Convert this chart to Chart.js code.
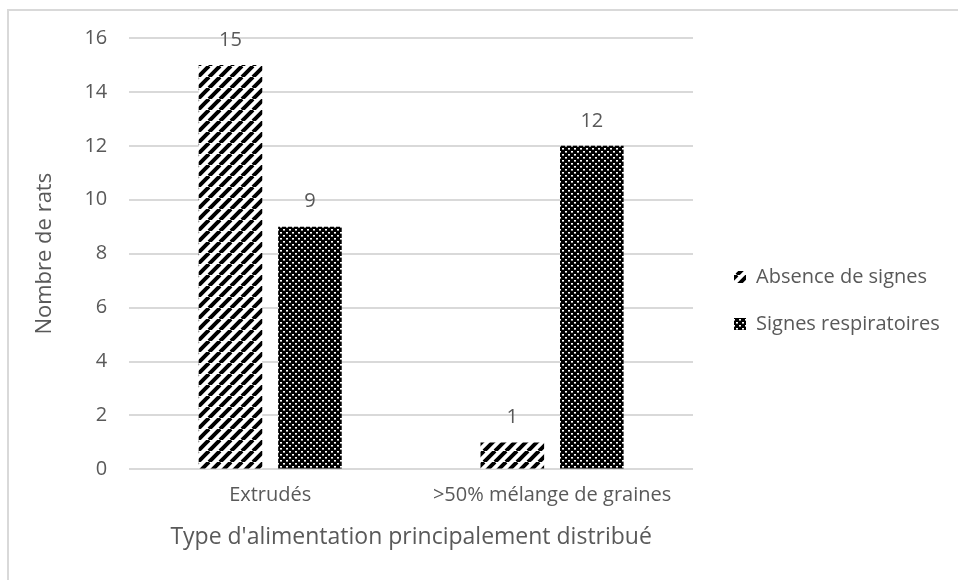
<!DOCTYPE html>
<html>
<head>
<meta charset="utf-8">
<script src="https://cdn.jsdelivr.net/npm/chart.js@4.4.0/dist/chart.umd.min.js"></script>
<style>
  html, body { margin: 0; padding: 0; background: #fff; }
  #wrap { width: 958px; height: 580px; }
</style>
</head>
<body>
<div id="wrap"><canvas id="chart" width="958" height="580"></canvas></div>
<script>
// data
const categories = ["Extrudés", ">50% mélange de graines"];
const absenceSignes = [15, 1];
const signesRespiratoires = [9, 12];
const seriesNames = ["Absence de signes", "Signes respiratoires"];
const yTicks = [0, 2, 4, 6, 8, 10, 12, 14, 16];

const textColor = "#595959";
const gridColor = "#d9d9d9";
const fontFamily = "'Open Sans', Lato, sans-serif";

// black diagonal stripes on white
function stripePattern() {
  const p = 11;
  const c = document.createElement("canvas");
  c.width = p; c.height = p;
  const g = c.getContext("2d");
  g.fillStyle = "#fff";
  g.fillRect(0, 0, p, p);
  g.strokeStyle = "#000";
  g.lineWidth = 4;
  g.beginPath();
  for (let k = -p; k <= p; k += p) {
    g.moveTo(k, p);
    g.lineTo(k + p, 0);
  }
  g.stroke();
  return g.createPattern(c, "repeat");
}

// black with small white dots
function dotPattern() {
  const c = document.createElement("canvas");
  c.width = 6; c.height = 6;
  const g = c.getContext("2d");
  g.fillStyle = "#000";
  g.fillRect(0, 0, 6, 6);
  g.fillStyle = "#fff";
  g.fillRect(1, 1, 2, 1.6);
  g.fillRect(4, 4, 2, 1.6);
  return g.createPattern(c, "repeat");
}

const frame = {
  id: "frame",
  beforeDraw(chart) {
    const ctx = chart.ctx;
    ctx.save();
    ctx.fillStyle = "#fff";
    ctx.fillRect(0, 0, chart.width, chart.height);
    ctx.strokeStyle = gridColor;
    ctx.lineWidth = 2;
    ctx.beginPath();
    ctx.moveTo(8, chart.height);
    ctx.lineTo(8, 10);
    ctx.lineTo(chart.width, 10);
    ctx.stroke();
    ctx.restore();
  }
};

// legend sits a bit away from the plot, like in the excel chart
const legendGap = {
  id: "legendGap",
  afterInit(chart) {
    const legend = chart.legend;
    const fit = legend.fit;
    legend.fit = function () {
      fit.call(this);
      this.width += 28;
    };
  },
  afterLayout(chart) {
    chart.legend.left += 14;
  }
};

const valueLabels = {
  id: "valueLabels",
  afterDatasetsDraw(chart) {
    const ctx = chart.ctx;
    ctx.save();
    ctx.fillStyle = textColor;
    ctx.font = "20px " + fontFamily;
    ctx.textAlign = "center";
    ctx.textBaseline = "middle";
    chart.data.datasets.forEach((ds, i) => {
      chart.getDatasetMeta(i).data.forEach((bar, j) => {
        ctx.fillText(String(ds.data[j]), bar.x, bar.y - 25);
      });
    });
    ctx.restore();
  }
};

new Chart(document.getElementById("chart"), {
  type: "bar",
  data: {
    labels: categories,
    datasets: [
      { label: seriesNames[0], data: absenceSignes, backgroundColor: stripePattern(), borderWidth: 0 },
      { label: seriesNames[1], data: signesRespiratoires, backgroundColor: dotPattern(), borderWidth: 0 }
    ]
  },
  options: {
    responsive: false,
    animation: false,
    layout: { padding: { left: 10, top: 38, right: 0, bottom: 17 } },
    datasets: { bar: { categoryPercentage: 0.564, barPercentage: 0.8 } },
    scales: {
      x: {
        grid: { display: false },
        border: { display: false },
        ticks: { color: textColor, font: { family: fontFamily, size: 20 }, padding: 6 },
        title: {
          display: true,
          text: "Type d'alimentation principalement distribué",
          color: textColor,
          font: { family: fontFamily, size: 23 },
          padding: { top: 10, bottom: 12 }
        }
      },
      y: {
        min: 0, max: 16,
        afterBuildTicks(axis) { axis.ticks = yTicks.map(v => ({ value: v })); },
        grid: { color: gridColor, lineWidth: 2, drawTicks: false },
        border: { display: false },
        ticks: { color: textColor, font: { family: fontFamily, size: 20 }, padding: 22 },
        title: {
          display: true,
          text: "Nombre de rats",
          color: textColor,
          font: { family: fontFamily, size: 22 },
          padding: { top: 22, bottom: 4 }
        }
      }
    },
    plugins: {
      legend: {
        position: "right",
        labels: {
          color: textColor,
          font: { family: fontFamily, size: 20 },
          boxWidth: 12, boxHeight: 12,
          padding: 27
        }
      },
      tooltip: { enabled: false }
    }
  },
  plugins: [frame, legendGap, valueLabels]
});
</script>
</body>
</html>
